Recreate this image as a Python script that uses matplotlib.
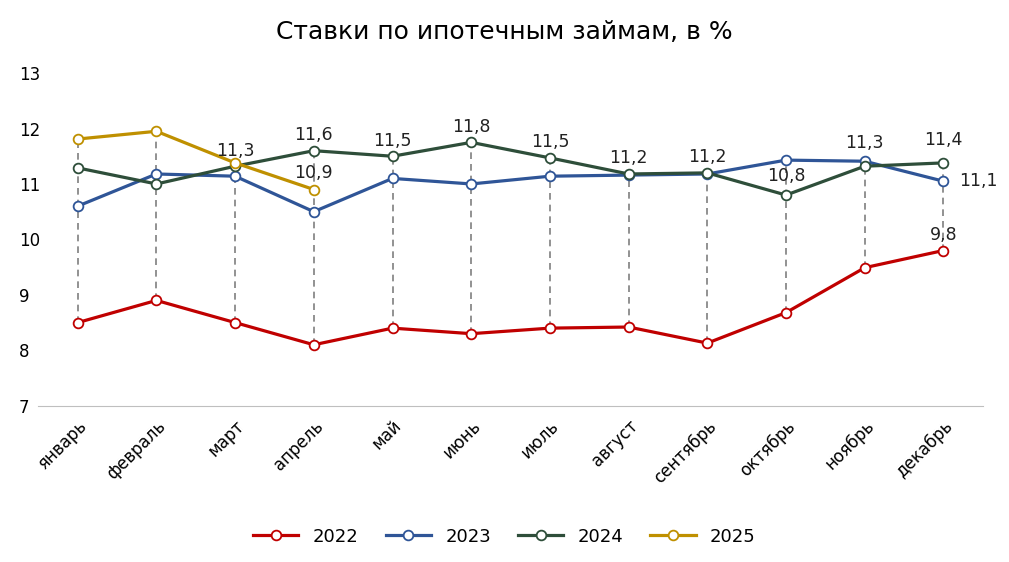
import matplotlib.pyplot as plt
import numpy as np

months = ["январь","февраль","март","апрель","май","июнь","июль","август","сентябрь","октябрь","ноябрь","декабрь"]
s2022 = [8.5, 8.9, 8.5, 8.1, 8.4, 8.3, 8.4, 8.42, 8.13, 8.68, 9.49, 9.8]
s2023 = [10.6, 11.18, 11.14, 10.5, 11.1, 11.0, 11.14, 11.16, 11.18, 11.43, 11.41, 11.05]
s2024 = [11.29, 11.0, 11.32, 11.6, 11.5, 11.75, 11.47, 11.18, 11.2, 10.8, 11.32, 11.38]
s2025 = [11.81, 11.95, 11.38, 10.9]

plt.rcParams['font.family'] = 'DejaVu Sans'
fig = plt.figure(figsize=(10.09, 5.62), dpi=100)
ax = fig.add_axes([0.038, 0.278, 0.936, 0.592])
x = np.arange(12)

for i in x:
    vals = [s2022[i], s2023[i], s2024[i]] + ([s2025[i]] if i < 4 else [])
    ax.plot([i, i], [min(vals), max(vals)], ls=(0, (4, 3)), color='#7f7f7f', lw=1.2, zorder=1)

series = [("2022", s2022, '#c00000'), ("2023", s2023, '#2f5597'),
          ("2024", s2024, '#2e4e3a'), ("2025", s2025, '#bf9000')]
for name, v, c in series:
    ax.plot(np.arange(len(v)), v, color=c, lw=2.3, marker='o', ms=7,
            mfc='white', mec=c, mew=1.3, label=name, zorder=3)

fs = 12.5
lab = [(2, s2024[2] + 0.28, "11,3"), (3, s2024[3] + 0.28, "11,6"), (4, s2024[4] + 0.28, "11,5"),
       (5, s2024[5] + 0.28, "11,8"), (6, s2024[6] + 0.28, "11,5"), (7, s2024[7] + 0.28, "11,2"),
       (8, s2024[8] + 0.28, "11,2"), (9, s2023[9] - 0.28, "10,8"), (10, s2024[10] + 0.42, "11,3"),
       (11, s2024[11] + 0.42, "11,4"), (11, s2022[11] + 0.28, "9,8")]
for xi, yi, t in lab:
    ax.text(xi, yi, t, ha='center', va='center', fontsize=fs, color='#222222')
ax.text(3.0, s2025[3] + 0.3, "10,9", ha='center', va='center', fontsize=fs, color='#222222')
ax.text(11.2, s2023[11], "11,1", ha='left', va='center', fontsize=fs, color='#222222')

ax.set_ylim(7, 13)
ax.set_xlim(-0.5, 11.5)
ax.set_yticks(range(7, 14))
ax.set_xticks(x)
ax.set_xticklabels(months, rotation=45, ha='right', rotation_mode='anchor', fontsize=12)
ax.tick_params(axis='y', labelsize=12, length=0, pad=14)
for t in ax.get_yticklabels():
    t.set_ha('left')
ax.tick_params(axis='x', length=0, pad=8)
for s in ['top', 'right', 'left']:
    ax.spines[s].set_visible(False)
ax.spines['bottom'].set_color('#bfbfbf')
fig.suptitle("Ставки по ипотечным займам, в %", y=0.965, fontsize=18)
fig.legend(loc='lower center', bbox_to_anchor=(0.5, 0.0), ncol=4, frameon=False,
           fontsize=13, handlelength=2.5, columnspacing=1.5)
fig.savefig("out.png", dpi=100)
